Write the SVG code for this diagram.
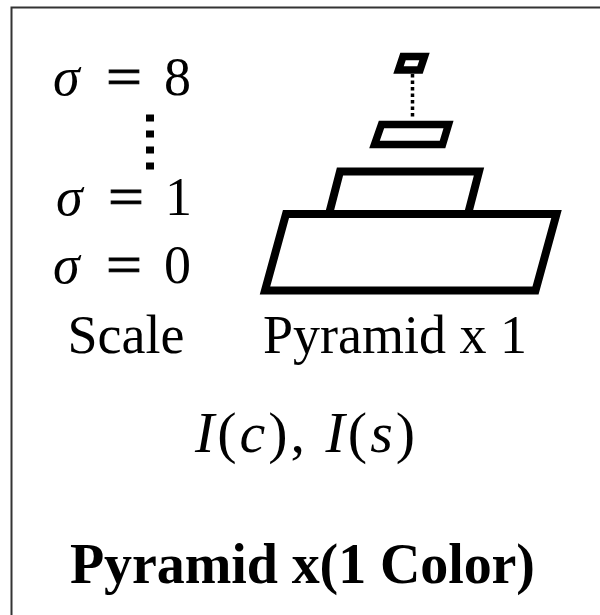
<svg xmlns="http://www.w3.org/2000/svg" width="600" height="615" viewBox="0 0 600 615">
<style>
.t{font-family:"Liberation Serif","Times New Roman",serif;fill:#000}
.eq{font-family:"Liberation Serif","Times New Roman",serif;fill:#000;font-size:54px;stroke:#000;stroke-width:0.8}
.shape{fill:none;stroke:#000;stroke-linejoin:miter}
.dot{stroke:#000;fill:none}
</style>
<rect x="0" y="0" width="600" height="615" fill="#fff"/>
<path d="M11.5,620 V7.5 H605" fill="none" stroke="#333" stroke-width="2"/>
<g id="scale">
<text class="t" font-size="54" y="95"><tspan x="53" font-style="italic">σ</tspan><tspan x="164">8</tspan></text>
<text class="eq" x="106" y="95" textLength="36" lengthAdjust="spacingAndGlyphs">=</text>
<line class="dot" x1="150" y1="114.5" x2="150" y2="172" stroke-width="8" stroke-dasharray="7,9"/>
<text class="t" font-size="54" y="215"><tspan x="56" font-style="italic">σ</tspan><tspan x="165">1</tspan></text>
<text class="eq" x="108" y="215" textLength="36" lengthAdjust="spacingAndGlyphs">=</text>
<text class="t" font-size="54" y="283"><tspan x="53" font-style="italic">σ</tspan><tspan x="164">0</tspan></text>
<text class="eq" x="106" y="283" textLength="36" lengthAdjust="spacingAndGlyphs">=</text>
<text class="t" font-size="54" x="126" y="353" text-anchor="middle">Scale</text>
</g>
<g id="pyramid">
<polygon class="shape" stroke-width="7.5" points="403,56.5 424.5,56.5 420,70 398.5,70"/>
<line class="dot" x1="412.5" y1="74" x2="412.5" y2="119" stroke-width="3.5" stroke-dasharray="3.5,3"/>
<polygon class="shape" stroke-width="7.5" points="381.5,124.5 448.5,124.5 442.5,144.5 374.5,144.5"/>
<polygon class="shape" stroke-width="8" points="340,171.5 479,171.5 468,214 329,214"/>
<polygon class="shape" stroke-width="8" points="286,214 556.5,214 535.5,290.5 265,290.5"/>
<text class="t" font-size="54" x="263" y="353">Pyramid x 1</text>
</g>
<g id="intensity">
<text class="t" font-size="58" y="452" x="195" textLength="220" lengthAdjust="spacing"><tspan font-style="italic">I</tspan>(<tspan font-style="italic">c</tspan>), <tspan font-style="italic">I</tspan>(<tspan font-style="italic">s</tspan>)</text>
</g>
<g id="title">
<text class="t" font-size="56" font-weight="bold" x="70" y="583" textLength="465" lengthAdjust="spacing">Pyramid x(1 Color)</text>
</g>
</svg>
